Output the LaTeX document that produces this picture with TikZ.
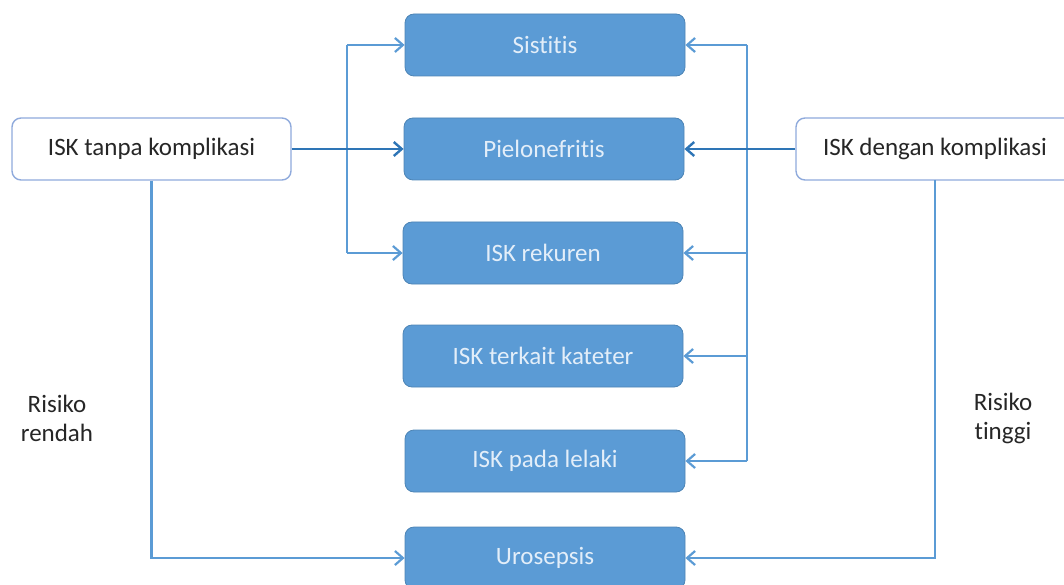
\documentclass[tikz,border=0pt]{standalone}
\usepackage{fontspec}
\setmainfont{Carlito}[Ligatures={NoCommon}]
\usetikzlibrary{arrows.meta}
\definecolor{boxblue}{HTML}{5B9BD5}
\definecolor{linkblue}{HTML}{5B9BD5}
\definecolor{mainblue}{HTML}{2E75B6}
\definecolor{txtlight}{HTML}{E3EEF9}
\definecolor{whiteborder}{HTML}{8FAADC}
\definecolor{txtdark}{HTML}{262626}
\begin{document}
\begin{tikzpicture}[x=1pt,y=-1pt,
  font=\fontsize{25}{29}\selectfont,
  bluebox/.style={draw=boxblue!85!black, line width=0.8pt, fill=boxblue, rounded corners=9pt, minimum width=280pt, minimum height=62pt, text=txtlight, inner sep=0pt},
  whitebox/.style={draw=whiteborder, line width=1.4pt, fill=white, rounded corners=9pt, minimum width=279pt, minimum height=62pt, text=txtdark, inner sep=0pt},
  link/.style={draw=linkblue, line width=2.2pt, -{Straight Barb[length=8pt,width=14pt,line width=2.2pt]}},
  plain/.style={draw=linkblue, line width=2.2pt},
  mainlink/.style={draw=mainblue, line width=2.4pt, -{Straight Barb[length=8pt,width=14pt,line width=2.4pt]}},
  risk/.style={align=center, text=txtdark, inner sep=0pt}]
\useasboundingbox (0,0) rectangle (1064,585);
\begin{scope}
\clip (0,0) rectangle (1064,585);
\node[bluebox] (sis) at (545,45) {Sistitis};
\node[bluebox] (pie) at (544,149) {Pielonefritis};
\node[bluebox] (rek) at (543,253) {ISK rekuren};
\node[bluebox] (kat) at (543,356) {ISK terkait kateter};
\node[bluebox] (lel) at (545,461) {ISK pada lelaki};
\node[bluebox] (uro) at (545,558) {Urosepsis};
\node[whitebox] (tanpa) at (151.5,149) {ISK tanpa komplikasi};
\node[whitebox, minimum width=280pt] (dengan) at (936,149) {};
\node[text=txtdark] (denganlbl) at (935,149) {ISK dengan komplikasi};
\node[risk] (rendah) at (57,418) {Risiko\\rendah};
\node[risk] (tinggi) at (1003,418) {Risiko\\tinggi};

\coordinate (lt) at (347,45);
\coordinate (lb) at (347,253);
\coordinate (rt) at (747,45);
\coordinate (rb) at (747,461);

% left branch
\draw[plain] (lt) -- (lb);
\draw[link] (lt) -- (sis.west);
\draw[link] (lb) -- (rek.west);
\draw[mainlink] (tanpa.east) -- (pie.west);

% right branch
\draw[plain] (rt) -- (rb);
\draw[link] (rt) -- (sis.east);
\draw[link] (747,253) -- (rek.east);
\draw[link] (747,356) -- (kat.east);
\draw[link] (rb) -- (lel.east);
\draw[mainlink] (dengan.west) -- (pie.east);

% urosepsis
\draw[link] (tanpa.south) |- (uro.west);
\draw[link] (935,180) |- (uro.east);
\end{scope}
\end{tikzpicture}
\end{document}
